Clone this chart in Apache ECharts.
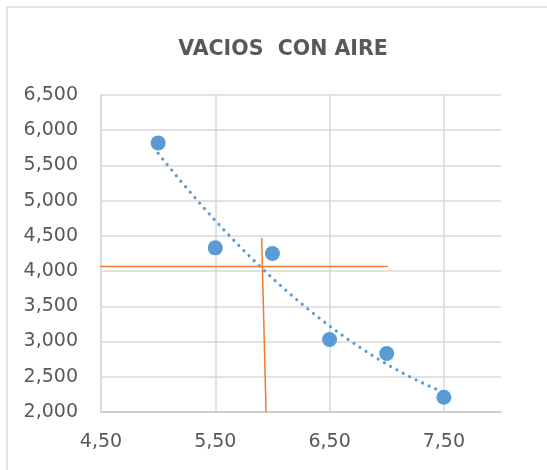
<!DOCTYPE html>
<html>
<head>
<meta charset="utf-8">
<script src="https://cdn.jsdelivr.net/npm/echarts@6/dist/echarts.min.js"></script>
<style>
  html, body { margin: 0; padding: 0; background: #ffffff; }
  #chart { width: 547px; height: 470px; }
</style>
</head>
<body>
<div id="chart"></div>
<script>
// Measured points: cement content (x) vs. air voids (y)
const vaciosX = [5.0, 5.5, 6.0, 6.5, 7.0, 7.5];
const vaciosY = [5820, 4330, 4250, 3030, 2830, 2210];

// Orange guide lines reading the design value off the trend
const guideH = [[4.47, 4067], [7.01, 4067]];
const guideV = [[5.906, 4474], [5.944, 2000]];

const titleText = 'VACIOS  CON AIRE';

// Second-order least-squares trendline through the measured points
function polyFit2(xs, ys) {
  let n = xs.length, sx = 0, sx2 = 0, sx3 = 0, sx4 = 0, sy = 0, sxy = 0, sx2y = 0;
  for (let i = 0; i < n; i++) {
    const x = xs[i], y = ys[i];
    sx += x; sx2 += x * x; sx3 += x * x * x; sx4 += x * x * x * x;
    sy += y; sxy += x * y; sx2y += x * x * y;
  }
  const A = [[n, sx, sx2, sy], [sx, sx2, sx3, sxy], [sx2, sx3, sx4, sx2y]];
  for (let c = 0; c < 3; c++) {
    for (let r = c + 1; r < 3; r++) {
      const f = A[r][c] / A[c][c];
      for (let k = c; k < 4; k++) A[r][k] -= f * A[c][k];
    }
  }
  const coef = [0, 0, 0];
  for (let r = 2; r >= 0; r--) {
    let s = A[r][3];
    for (let k = r + 1; k < 3; k++) s -= A[r][k] * coef[k];
    coef[r] = s / A[r][r];
  }
  return coef;
}
const coef = polyFit2(vaciosX, vaciosY);
const trend = [];
const x0 = vaciosX[0], x1 = vaciosX[vaciosX.length - 1];
for (let i = 0; i <= 50; i++) {
  const x = x0 + (x1 - x0) * i / 50;
  trend.push([x, coef[0] + coef[1] * x + coef[2] * x * x]);
}

const scatterData = vaciosX.map((x, i) => [x, vaciosY[i]]);

const font = 'DejaVu Sans';
const gridColor = '#D9D9D9';
const textColor = '#595959';

const chart = echarts.init(document.getElementById('chart'), null, { renderer: 'canvas' });
chart.setOption({
  backgroundColor: '#ffffff',
  animation: false,
  graphic: [{
    type: 'rect',
    shape: { x: 7, y: 7, width: 700, height: 700 },
    style: { fill: 'none', stroke: gridColor, lineWidth: 1.5 },
    silent: true
  }],
  title: {
    text: titleText,
    left: 278,
    textAlign: 'center',
    top: 34,
    textStyle: { fontFamily: font, fontWeight: 'bold', fontSize: 20.5, color: textColor }
  },
  grid: { left: 101, right: 46, top: 95, bottom: 58, containLabel: false },
  xAxis: {
    type: 'value',
    min: 4.5,
    max: 8,
    interval: 1,
    axisLine: { show: true, lineStyle: { color: '#C8C8C8', width: 1.5 } },
    axisTick: { show: false },
    axisLabel: {
      showMaxLabel: false,
      margin: 21,
      fontFamily: font,
      fontSize: 19,
      color: textColor,
      formatter: v => v.toFixed(2).replace('.', ',')
    },
    splitLine: { show: true, showMaxLine: false, lineStyle: { color: gridColor, width: 1.5 } }
  },
  yAxis: {
    type: 'value',
    min: 2000,
    max: 6500,
    interval: 500,
    axisLine: { show: true, lineStyle: { color: gridColor, width: 1.5 } },
    axisTick: { show: false },
    axisLabel: {
      margin: 23,
      fontFamily: font,
      fontSize: 19,
      color: textColor,
      formatter: v => v.toLocaleString('en-US')
    },
    splitLine: { show: true, lineStyle: { color: gridColor, width: 1.5 } }
  },
  series: [
    {
      type: 'line',
      data: trend,
      showSymbol: false,
      smooth: false,
      lineStyle: { color: '#5B9BD5', width: 3.2, type: [0.01, 7.2], cap: 'round' },
      z: 2
    },
    {
      type: 'line',
      data: guideH,
      showSymbol: false,
      clip: false,
      lineStyle: { color: '#ED7D31', width: 1.5 },
      z: 3
    },
    {
      type: 'line',
      data: guideV,
      showSymbol: false,
      clip: false,
      lineStyle: { color: '#ED7D31', width: 1.5 },
      z: 3
    },
    {
      type: 'scatter',
      data: scatterData,
      symbol: 'circle',
      symbolSize: 15,
      itemStyle: { color: '#5B9BD5', opacity: 1 },
      z: 4
    }
  ]
});
</script>
</body>
</html>
